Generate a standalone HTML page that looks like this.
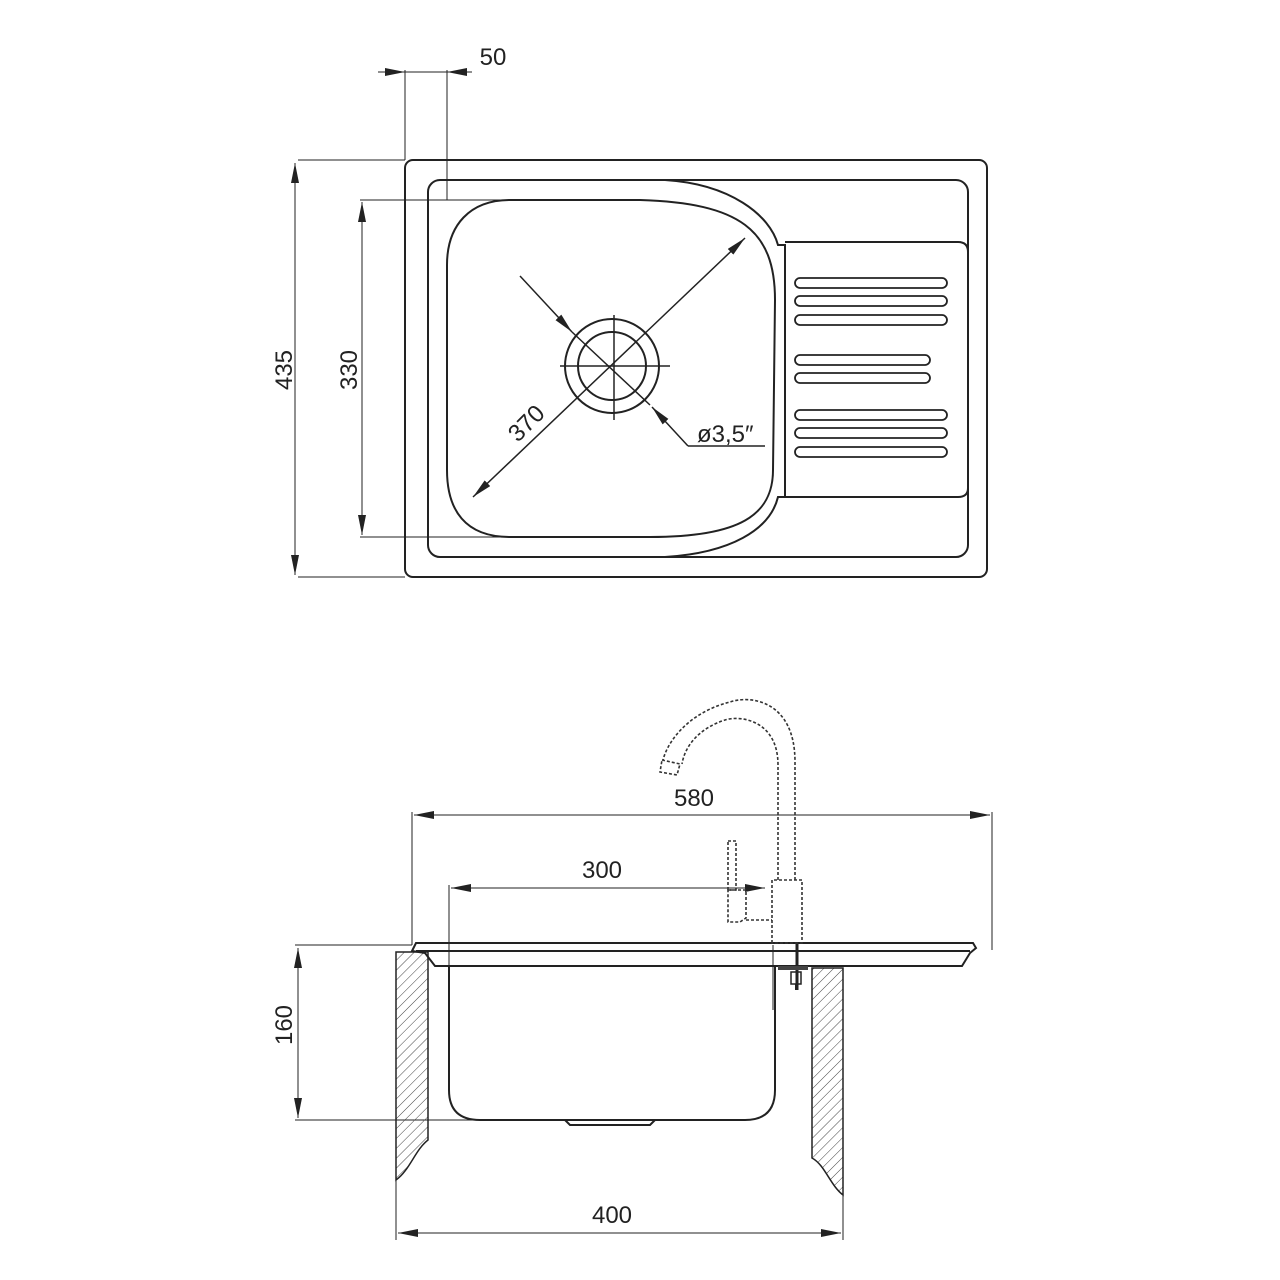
<!DOCTYPE html>
<html><head><meta charset="utf-8"><style>
html,body{margin:0;padding:0;background:#fff}
svg{display:block}
text{font-family:"Liberation Sans",sans-serif;font-size:24px;fill:#222}
</style></head><body>
<svg width="1280" height="1280" viewBox="0 0 1280 1280" xmlns="http://www.w3.org/2000/svg">
<defs>
<marker id="a" viewBox="0 0 20 8" refX="20" refY="4" markerWidth="20" markerHeight="8" markerUnits="userSpaceOnUse" orient="auto-start-reverse"><path d="M0,0L20,4L0,8z" fill="#222"/></marker>
<pattern id="h" width="7" height="7" patternUnits="userSpaceOnUse" patternTransform="rotate(45)"><line x1="0" y1="0" x2="0" y2="7" stroke="#444" stroke-width="1"/></pattern>
</defs>
<g fill="none" stroke="#222" stroke-width="1">
<!-- top view dims -->
<line x1="405" y1="70" x2="405" y2="160"/>
<line x1="447" y1="70" x2="447" y2="200"/>
<line x1="378" y1="72" x2="405" y2="72" marker-end="url(#a)"/>
<line x1="472" y1="72" x2="447" y2="72" marker-end="url(#a)"/>
<line x1="447" y1="72" x2="405" y2="72"/>
<line x1="298" y1="160" x2="405" y2="160"/>
<line x1="298" y1="577" x2="405" y2="577"/>
<line x1="295" y1="163" x2="295" y2="575" marker-start="url(#a)" marker-end="url(#a)"/>
<line x1="360" y1="200" x2="560" y2="200"/>
<line x1="360" y1="537" x2="560" y2="537"/>
<line x1="362" y1="202" x2="362" y2="535" marker-start="url(#a)" marker-end="url(#a)"/>
</g>
<g fill="none" stroke="#222" stroke-width="2">
<rect x="405" y="160" width="582" height="417" rx="8"/>
<rect x="428" y="180" width="540" height="377" rx="12"/>
<path d="M665,180 C730,184 770,215 778,245 L785,245 L785,497 L778,497 C770,530 730,553 665,557"/>
<path d="M785,242 L958,242 Q968,242 968,252 L968,488 Q968,497 958,497 L785,497"/>
<path d="M510,200 L640,200 C740,203 775,230 775,300 L773,470 C773,515 740,537 650,537 L510,537 C465,537 447,510 447,470 L447,265 C447,225 470,200 510,200 Z"/>
<g stroke-width="1.8">
<rect x="795" y="278" width="152" height="10" rx="5"/>
<rect x="795" y="296" width="152" height="10" rx="5"/>
<rect x="795" y="315" width="152" height="10" rx="5"/>
<rect x="795" y="355" width="135" height="10" rx="5"/>
<rect x="795" y="373" width="135" height="10" rx="5"/>
<rect x="795" y="410" width="152" height="10" rx="5"/>
<rect x="795" y="428" width="152" height="10" rx="5"/>
<rect x="795" y="447" width="152" height="10" rx="5"/>
</g>
<circle cx="612" cy="366" r="47"/>
<circle cx="612" cy="366" r="34"/>
</g>
<g fill="none" stroke="#222" stroke-width="1.5">
<line x1="560" y1="366" x2="670" y2="366"/>
<line x1="614" y1="315" x2="614" y2="420"/>
<line x1="473" y1="497" x2="745" y2="238" marker-start="url(#a)" marker-end="url(#a)"/>
<line x1="520" y1="276" x2="572" y2="332" marker-end="url(#a)"/>
<line x1="572" y1="332" x2="650" y2="405"/>
<line x1="688" y1="446" x2="652" y2="407" marker-end="url(#a)"/>
<polyline points="688,446 765,446"/>
</g>
<text x="493" y="65" text-anchor="middle">50</text>
<text transform="translate(292,370) rotate(-90)" text-anchor="middle">435</text>
<text transform="translate(357,370) rotate(-90)" text-anchor="middle">330</text>
<text transform="translate(532,429) rotate(-45)" text-anchor="middle">370</text>
<text x="697" y="442">ø3,5″</text>

<!-- side view dims -->
<g fill="none" stroke="#222" stroke-width="1">
<line x1="412" y1="812" x2="412" y2="945"/>
<line x1="992" y1="812" x2="992" y2="950"/>
<line x1="414" y1="815" x2="990" y2="815" marker-start="url(#a)" marker-end="url(#a)"/>
<line x1="449" y1="885" x2="449" y2="1000"/>
<line x1="451" y1="888" x2="765" y2="888" marker-start="url(#a)" marker-end="url(#a)"/>
<line x1="295" y1="945" x2="412" y2="945"/>
<line x1="295" y1="1120" x2="570" y2="1120"/>
<line x1="298" y1="948" x2="298" y2="1118" marker-start="url(#a)" marker-end="url(#a)"/>
<line x1="396" y1="1160" x2="396" y2="1240"/>
<line x1="843" y1="1160" x2="843" y2="1240"/>
<line x1="398" y1="1233" x2="841" y2="1233" marker-start="url(#a)" marker-end="url(#a)"/>
<line x1="773" y1="945" x2="773" y2="1010"/>
</g>
<text x="694" y="806" text-anchor="middle">580</text>
<text x="602" y="878" text-anchor="middle">300</text>
<text x="612" y="1223" text-anchor="middle">400</text>
<text transform="translate(292,1025) rotate(-90)" text-anchor="middle">160</text>

<!-- counter walls -->
<path d="M396,952 L428,952 L428,1140 C415,1150 410,1170 396,1180 Z" fill="url(#h)" stroke="#222" stroke-width="1.5"/>
<path d="M812,968 L843,968 L843,1195 C830,1185 825,1165 812,1158 Z" fill="url(#h)" stroke="#222" stroke-width="1.5"/>
<!-- sink plate -->
<g fill="none" stroke="#222" stroke-width="2">
<path d="M412,951 L416,943 L973,943 L976,948 L970,953 L962,966 L435,966 L425,953 Z"/>
<line x1="416" y1="951" x2="970" y2="951"/>
<path d="M449,966 L449,1090 Q449,1120 480,1120 L745,1120 Q775,1120 775,1090 L775,966"/>
<path d="M565,1120 L570,1125 L650,1125 L655,1120"/>
<line x1="797" y1="943" x2="797" y2="990" stroke-width="3"/>
<rect x="778" y="966" width="30" height="4" fill="#444" stroke="none"/>
<rect x="791" y="972" width="10" height="12" stroke-width="1.5"/>
<line x1="796" y1="984" x2="796" y2="990"/>
</g>
<!-- faucet dashed -->
<g fill="none" stroke="#333" stroke-width="1.6" stroke-dasharray="3,2">
<path d="M772,943 L772,880 L802,880 L802,943 Z"/>
<path d="M778,880 L778,765 C778,720 740,715 725,720 C700,728 685,745 682,764"/>
<path d="M795,880 L795,762 C795,700 750,695 730,702 C690,712 668,740 663,760"/>
<path d="M662,760 L680,764 L677,775 L660,772 Z"/>
<path d="M728,841 L736,841 L736,890 L728,890 Z"/>
<path d="M728,890 L746,890 L746,918 L740,922 L728,922 Z"/>
<path d="M746,920 L772,920"/>
</g>
</svg>
</body></html>
